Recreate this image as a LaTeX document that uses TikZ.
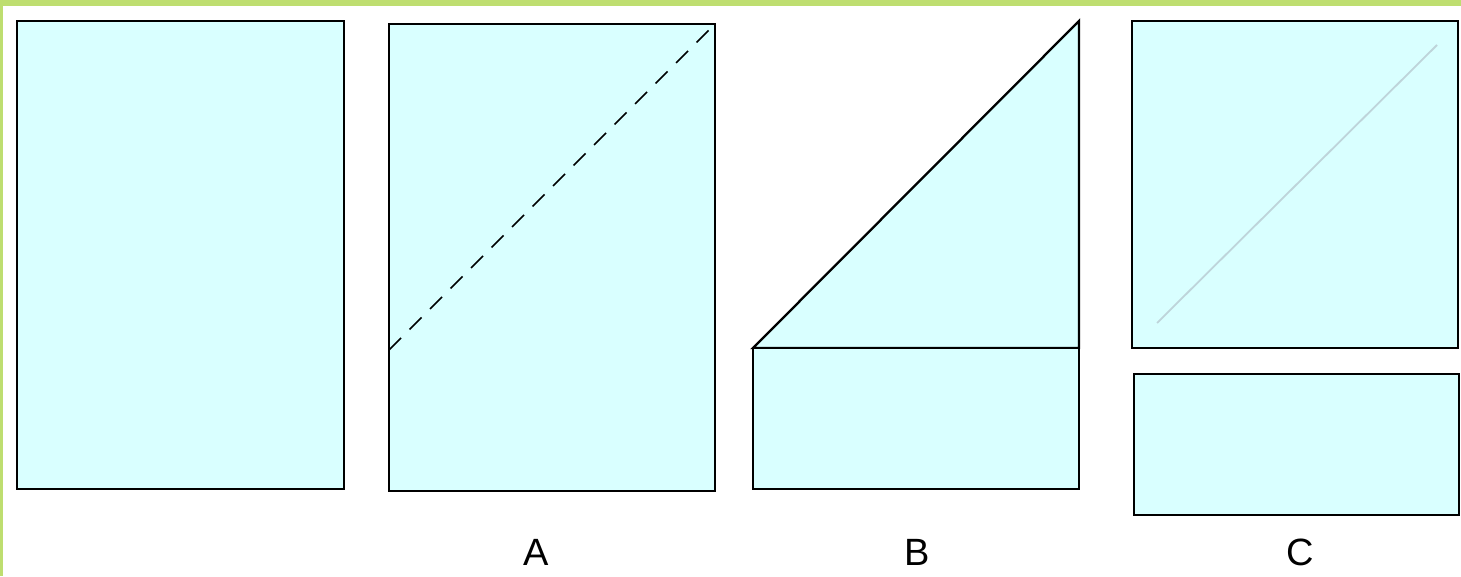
\documentclass[tikz,border=0pt]{standalone}
\usepackage{fontspec}
\setmainfont{Liberation Sans}
\definecolor{paper}{RGB}{217,255,255}
\definecolor{frame}{RGB}{190,222,112}
\definecolor{faint}{RGB}{190,212,218}
\begin{document}
\begin{tikzpicture}[x=1pt,y=-1pt,
  sheet/.style={draw=black,line width=2.3pt,fill=paper},
  fold/.style={draw=black,line width=1.6pt,dash pattern=on 17pt off 12pt},
  crease/.style={draw=faint,line width=1.8pt},
  lbl/.style={font=\fontsize{38}{38}\selectfont,anchor=center,inner sep=0pt}]
\useasboundingbox (0,0) rectangle (1461,576);
\fill[white] (0,0) rectangle (1461,576);
\fill[frame] (0,0) rectangle (1461,6);
\fill[frame] (0,0) rectangle (2.5,576);
% original
\draw[sheet] (17,21) rectangle (344,489);
% A
\draw[sheet] (389,24) rectangle (715,491);
\coordinate (a1) at (389,350);
\coordinate (a2) at (715,24);
\draw[fold] (a1) -- (a2);
\node[lbl] (la) at (536,552) {A};
% B
\draw[sheet] (753,348) -- (1079,21) -- (1079,348) -- cycle;
\draw[sheet] (753,348) rectangle (1079,489);
\node[lbl] (lb) at (917,552) {B};
% C
\draw[sheet] (1132,21) rectangle (1458,348);
\coordinate (c1) at (1157,323);
\coordinate (c2) at (1437,45);
\draw[crease] (c1) -- (c2);
\draw[sheet] (1134,374) rectangle (1459,515);
\node[lbl] (lc) at (1300,552) {C};
\end{tikzpicture}
\end{document}
